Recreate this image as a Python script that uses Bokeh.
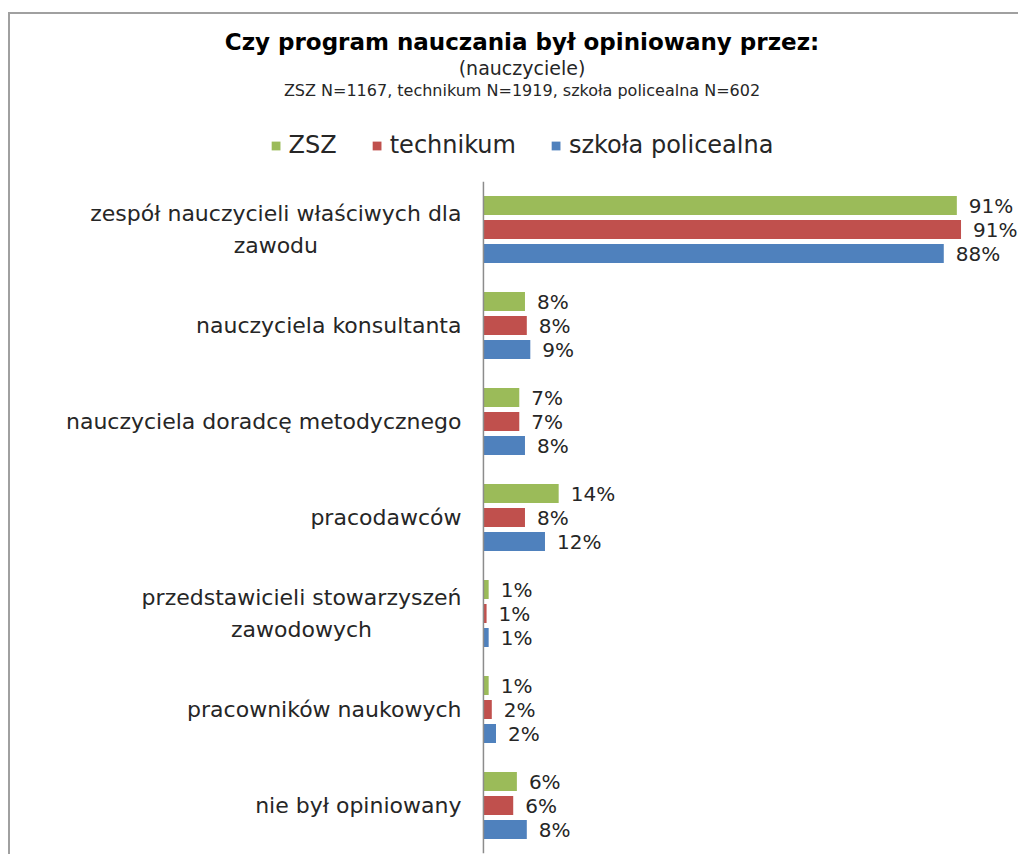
from bokeh.plotting import figure
from bokeh.layouts import column
from bokeh.models import ColumnDataSource, Range1d, FactorRange, Legend, LegendItem, Title, Span
from bokeh.transform import dodge
from bokeh.core.properties import value
from bokeh.embed import file_html
from bokeh.resources import INLINE

categories = [
    "zespół nauczycieli właściwych dla\nzawodu",
    "nauczyciela konsultanta",
    "nauczyciela doradcę metodycznego",
    "pracodawców",
    "przedstawicieli stowarzyszeń\nzawodowych",
    "pracowników naukowych",
    "nie był opiniowany",
]
series_names = ["ZSZ", "technikum", "szkoła policealna"]
zsz = [90.6, 7.95, 6.86, 14.4, 1.0, 1.0, 6.4]
technikum = [91.4, 8.3, 6.86, 7.95, 0.6, 1.6, 5.7]
policealna = [88.1, 8.97, 7.95, 11.78, 1.0, 2.4, 8.3]
colors = ["#9BBB59", "#C0504D", "#4F81BD"]

title_text = "Czy program nauczania był opiniowany przez:"
subtitle1 = "(nauczyciele)"
subtitle2 = "ZSZ N=1167, technikum N=1919, szkoła policealna N=602"


def pct(v):
    return f"{int(v + 0.5)}%"


src = ColumnDataSource(dict(
    cat=categories,
    zsz=zsz, technikum=technikum, policealna=policealna,
    zsz_l=[pct(v) for v in zsz],
    technikum_l=[pct(v) for v in technikum],
    policealna_l=[pct(v) for v in policealna],
    zero=[0] * len(categories),
))

FONT = "DejaVu Sans"
TXT = "#262626"

# ---------- header: titles + legend ----------
head = figure(
    width=1008, height=167,
    x_range=Range1d(0, 1), y_range=Range1d(0, 1),
    output_backend="svg", toolbar_location=None,
    min_border_left=15, min_border_right=0, min_border_bottom=0, min_border_top=0,
    title=None,
)
head.xaxis.visible = False
head.yaxis.visible = False
head.grid.visible = False
head.outline_line_color = None

# legend keys: zero-size bars kept outside the visible range
legend_renderers = []
for color in colors:
    r = head.hbar(y=[-5], left=[0], right=[0], height=0.0, fill_color=color, line_color=None)
    legend_renderers.append(r)

legend = Legend(
    items=[LegendItem(label=n, renderers=[r]) for n, r in zip(series_names, legend_renderers)],
    orientation="horizontal", location="bottom_center",
    glyph_width=11, glyph_height=11, label_standoff=8, spacing=34,
    label_text_font=FONT, label_text_font_size="24px", label_text_color=TXT,
    margin=22, padding=0, border_line_color=None, background_fill_alpha=0,
)
head.add_layout(legend, "center")

head.add_layout(Title(text=subtitle2, align="center", text_font=FONT, text_font_size="16px",
                      text_font_style="normal", text_color=TXT, standoff=0), "above")
head.add_layout(Title(text=subtitle1, align="center", text_font=FONT, text_font_size="19px",
                      text_font_style="normal", text_color=TXT, standoff=0), "above")
head.add_layout(Title(text=title_text, align="center", text_font=FONT, text_font_size="23px",
                      text_font_style="bold", text_color="#000000", standoff=0), "above")
head.add_layout(Title(text=" ", text_font_size="8px", standoff=1), "above")

# ---------- bars ----------
p = figure(
    width=1008, height=673,
    x_range=Range1d(-87.64, 102.4),
    y_range=FactorRange(*reversed(categories)),
    output_backend="svg", toolbar_location=None,
    min_border_left=15, min_border_right=0, min_border_bottom=1, min_border_top=0,
    title=None,
)
p.xaxis.visible = False
p.yaxis.visible = False
p.grid.visible = False
p.outline_line_color = None

cols = ["zsz", "technikum", "policealna"]
offsets = [0.25, 0.0, -0.25]
for col, off, color in zip(cols, offsets, colors):
    p.hbar(y=dodge("cat", off, range=p.y_range), left=0, right=col, height=0.198,
           source=src, fill_color=color, line_color=None)
    p.text(x=col, y=dodge("cat", off, range=p.y_range), text=col + "_l", source=src,
           x_offset=12, text_baseline="middle", text_align="left",
           text_font=value(FONT), text_font_size="20px", text_color=TXT)

p.text(x="zero", y="cat", text="cat", source=src, x_offset=-22,
       anchor=value("center_right"), text_align="center", text_baseline="middle",
       text_line_height=1.3,
       text_font=value(FONT), text_font_size="22px", text_color=TXT)

p.add_layout(Span(location=0, dimension="height", line_color="#8c8c8c", line_width=1.5))

layout = column(
    head, p, spacing=0,
    styles={"border-top": "2px solid #a0a0a0", "border-left": "2px solid #a0a0a0",
            "margin-top": "12px", "margin-left": "8px"},
)

open("out.html", "w").write(file_html(layout, INLINE))
